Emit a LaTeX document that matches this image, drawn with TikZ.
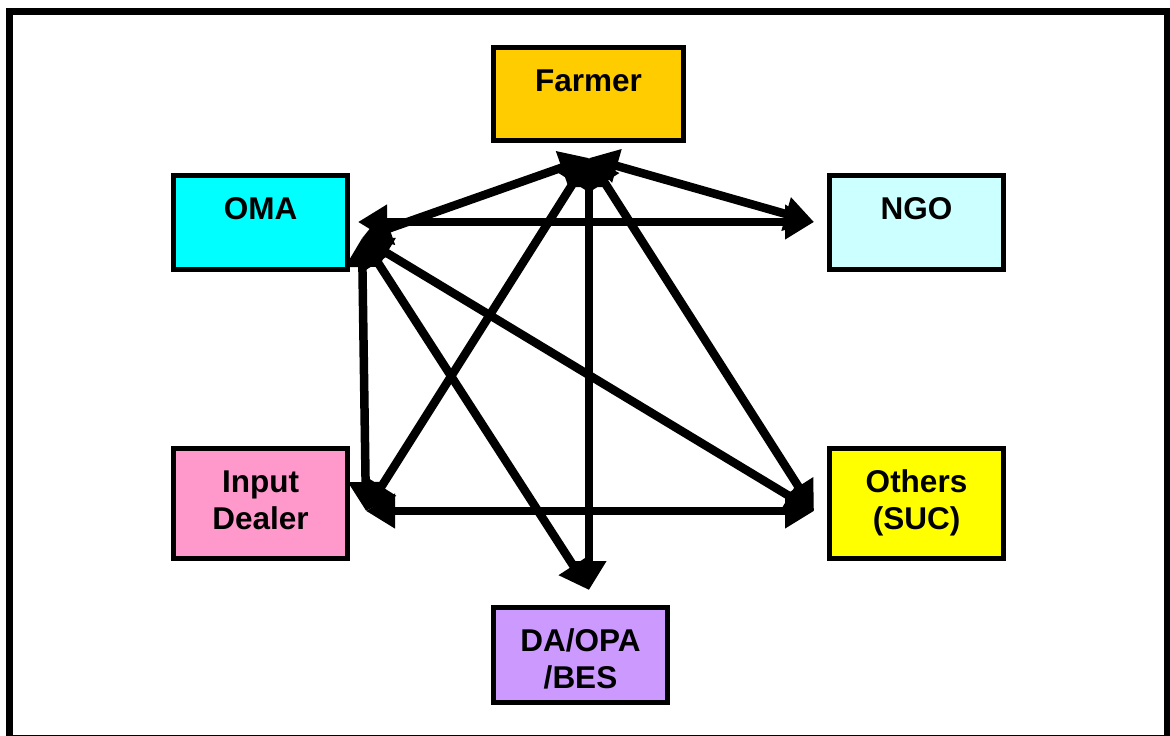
\documentclass[tikz,border=0pt]{standalone}
\usepackage{fontspec}
\setmainfont{Liberation Sans}
\usetikzlibrary{arrows.meta}
\definecolor{farmerc}{HTML}{FFCC00}
\definecolor{omac}{HTML}{00FFFF}
\definecolor{ngoc}{HTML}{CCFFFF}
\definecolor{inputc}{HTML}{FF99CC}
\definecolor{othersc}{HTML}{FFFF00}
\definecolor{dac}{HTML}{CC99FF}
\begin{document}
\begin{tikzpicture}[x=1pt,y=-1pt,
  box/.style={draw=black, line width=5pt, rectangle, inner sep=0pt,
    minimum width=174pt, minimum height=94pt},
  lbl/.style={anchor=base, inner sep=0pt,
    font=\fontsize{31.5}{37}\selectfont\bfseries},
  link/.style={line width=8.5pt, {Triangle[length=29pt,width=33pt]}-{Triangle[length=29pt,width=33pt]}}
]
\useasboundingbox (0,0) rectangle (1170,736);
\fill[white] (0,0) rectangle (1170,736);
% outer frame
\draw[line width=7pt] (9,11) rectangle (1167,738.5);

% boxes
\node[box, fill=farmerc, minimum width=190pt, minimum height=93pt] (farmer) at (588.5,94) {};
\node[box, fill=omac] (oma) at (260.5,222.5) {};
\node[box, fill=ngoc] (ngo) at (916.5,222.5) {};
\node[box, fill=inputc, minimum height=110pt] (input) at (260.5,503.5) {};
\node[box, fill=othersc, minimum height=110pt] (others) at (916.5,503.5) {};
\node[box, fill=dac, minimum height=95pt] (da) at (580.5,655) {};

% labels
\node[lbl] (farmer-t) at (588.5,91) {Farmer};
\node[lbl] (oma-t) at (260.5,219) {OMA};
\node[lbl] (ngo-t) at (916.5,219) {NGO};
\node[lbl] (input-t) at (260.5,492) {\begin{tabular}[t]{@{}c@{}}Input\\Dealer\end{tabular}};
\node[lbl] (others-t) at (916.5,492) {\begin{tabular}[t]{@{}c@{}}Others\\(SUC)\end{tabular}};
\node[lbl] (da-t) at (580.5,651) {\begin{tabular}[t]{@{}c@{}}DA/OPA\\/BES\end{tabular}};

% connector hubs
\coordinate (F) at (589,158);
\coordinate (N) at (814,222);
\coordinate (O) at (362,238);
\coordinate (Oh) at (358,222);
\coordinate (I) at (366,511);
\coordinate (S) at (814,511);
\coordinate (D) at (589,590);

% connectors
\draw[link] (F) -- (O);
\draw[link] (F) -- (N);
\draw[link] (F) -- (D);
\draw[link] (F) -- (I);
\draw[link] (F) -- (S);
\draw[link] (Oh) -- (N);
\draw[link] (O) -- (I);
\draw[link] (O) -- (S);
\draw[link] (O) -- (D);
\draw[link] (I) -- (S);
\end{tikzpicture}
\end{document}
